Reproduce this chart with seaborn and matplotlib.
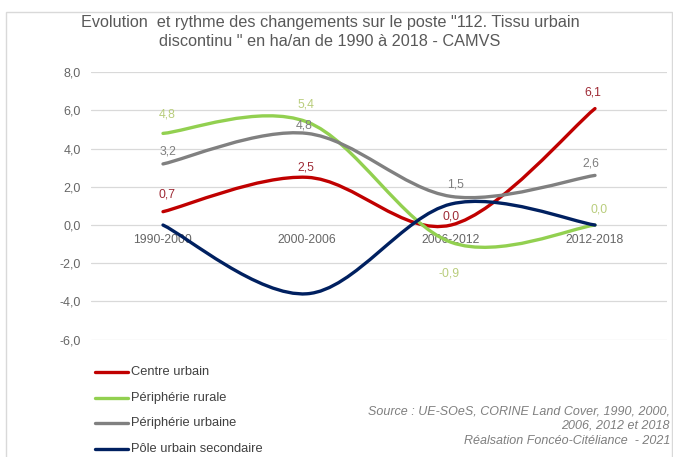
import matplotlib
matplotlib.use("Agg")
import matplotlib.pyplot as plt
import seaborn as sns
import numpy as np
import pandas as pd
from matplotlib.path import Path
from matplotlib.patches import PathPatch, Rectangle
from matplotlib.lines import Line2D

# data (ha/an)
periodes = ["1990-2000", "2000-2006", "2006-2012", "2012-2018"]
centre_urbain = [0.7, 2.5, 0.0, 6.1]
peripherie_rurale = [4.8, 5.4, -0.9, 0.0]
peripherie_urbaine = [3.2, 4.8, 1.5, 2.6]
pole_secondaire = [0.0, -3.6, 1.1, 0.0]

series_names = ["Centre urbain", "Périphérie rurale", "Périphérie urbaine", "Pôle urbain secondaire"]
series_values = [centre_urbain, peripherie_rurale, peripherie_urbaine, pole_secondaire]
line_colors = ["#C00000", "#92D050", "#808080", "#002060"]
label_colors = ["#9E2A35", "#B9CD7C", "#7F7F7F", None]

# label offsets in px (dx, dy) - tweaked by hand like the original
label_offsets = [
    [(4, 17), (-1, 10), (0, 9), (-2, 16)],
    [(4, 19), (-1, 17), (-2, -31), (4, 16)],
    [(5, 12), (-3, 8), (5, 12), (-4, 12)],
    None,
]

W, H = 673, 457
PT = 0.72  # px -> pt at dpi 100

df = pd.DataFrame({
    "periode": periodes * len(series_names),
    "valeur": sum(series_values, []),
    "zone": np.repeat(series_names, len(periodes)),
})

sns.set_style("white")
plt.rcParams["font.family"] = ["Liberation Sans", "DejaVu Sans"]

fig = plt.figure(figsize=(W / 100, H / 100), dpi=100)
fig.patch.set_facecolor("white")

def fx(px):
    return px / W

def fy(py):
    return 1 - py / H

# light frame around the chart
fig.add_artist(Rectangle((fx(6), fy(470)), fx(666), (470 - 12) / H, transform=fig.transFigure,
                         fill=False, edgecolor="#D9D9D9", lw=1))

ax = fig.add_axes([fx(91), fy(339.6), fx(667 - 91), (339.6 - 72.3) / H])

sns.lineplot(data=df, x="periode", y="valeur", hue="zone", hue_order=series_names,
             palette=dict(zip(series_names, line_colors)), errorbar=None, sort=False,
             legend=False, ax=ax)


def smooth_path(xy, t=1 / 6):
    # excel-like smoothed line: cubic bezier through the points
    pts = np.vstack([xy[0], xy, xy[-1]])
    verts = [tuple(xy[0])]
    codes = [Path.MOVETO]
    for i in range(1, len(pts) - 2):
        p0, p1, p2, p3 = pts[i - 1], pts[i], pts[i + 1], pts[i + 2]
        c1 = p1 + (p2 - p0) * t
        c2 = p2 - (p3 - p1) * t
        verts += [tuple(c1), tuple(c2), tuple(p2)]
        codes += [Path.CURVE4] * 3
    return Path(verts, codes)


for k, line in enumerate(list(ax.lines)):
    xy = line.get_xydata()
    patch = PathPatch(smooth_path(xy), fill=False, edgecolor=line_colors[k], lw=2.4,
                      capstyle="round", joinstyle="round", zorder=3 + k)
    ax.add_patch(patch)
    line.set_visible(False)

    if label_offsets[k] is None:
        continue
    for (x, y), (dx, dy) in zip(xy, label_offsets[k]):
        ax.annotate(f"{y:.1f}".replace(".", ","), (x, y), xytext=(dx * PT, dy * PT),
                    textcoords="offset points", ha="center", va="center",
                    fontsize=8.8, color=label_colors[k], zorder=10)

ax.set_xlim(-0.5, len(periodes) - 0.5)
ax.set_ylim(-6, 8)
yt = np.arange(-6, 9, 2)
ax.set_yticks(yt)
ax.set_yticklabels([f"{v:.1f}".replace(".", ",") for v in yt], fontsize=9, color="#666666")
ax.tick_params(axis="y", length=0, pad=10 * PT)
ax.set_xticks([])
ax.set_xlabel("")
ax.set_ylabel("")
ax.yaxis.grid(True, color="#D9D9D9", lw=0.9)
ax.set_axisbelow(True)
for s in ax.spines.values():
    s.set_visible(False)

# category labels sit under the zero line
for i, p in enumerate(periodes):
    ax.annotate(p, (i, 0), xytext=(0, -15 * PT), textcoords="offset points",
                ha="center", va="center", fontsize=8.8, color="#666666", zorder=2)

fig.text(fx(330), fy(22), "Evolution  et rythme des changements sur le poste \"112. Tissu urbain",
         ha="center", va="center", fontsize=11.7, color="#595959")
fig.text(fx(330), fy(42), "discontinu \" en ha/an de 1990 à 2018 - CAMVS",
         ha="center", va="center", fontsize=11.7, color="#595959")

# legend drawn by hand, bottom left
for k, name in enumerate(series_names):
    yy = 372 + k * 25.7
    fig.add_artist(Line2D([fx(95), fx(128)], [fy(yy), fy(yy)], transform=fig.transFigure,
                          color=line_colors[k], lw=2.4))
    fig.text(fx(131), fy(yy), name, ha="left", va="center", fontsize=9.3, color="#404040")

src = ["Source : UE-SOeS, CORINE Land Cover, 1990, 2000,", "2006, 2012 et 2018",
       "Réalsation Foncéo-Citéliance  - 2021"]
for k, s in enumerate(src):
    fig.text(fx(670), fy(411 + k * 15), s, ha="right", va="center", fontsize=9,
             style="italic", color="#7F7F7F")

fig.savefig("out.png", dpi=100, facecolor="white")
